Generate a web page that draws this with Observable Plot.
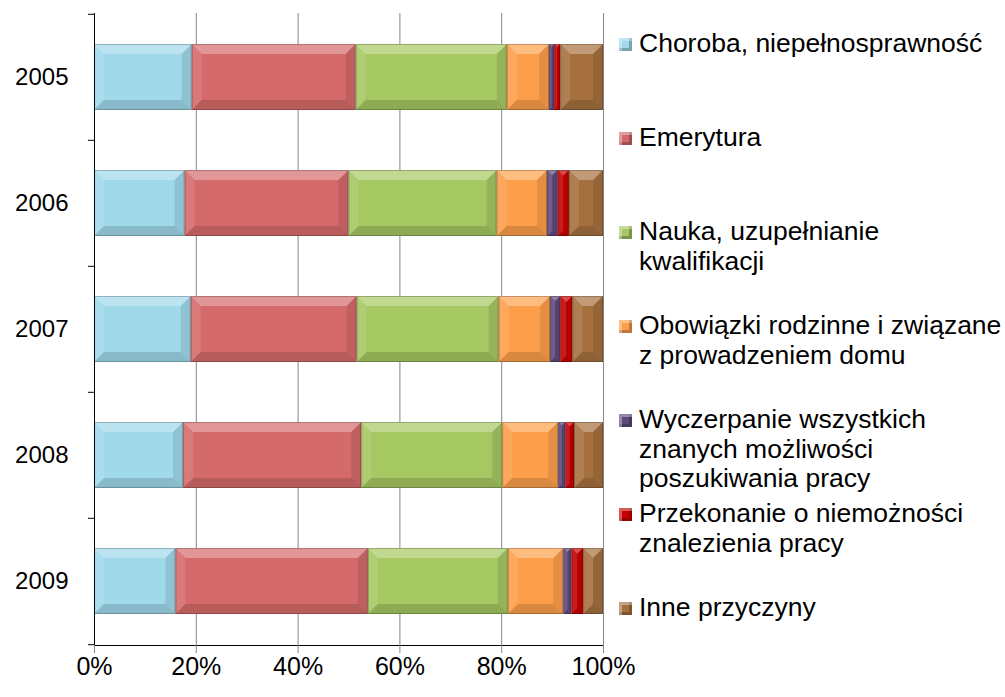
<!DOCTYPE html>
<html>
<head>
<meta charset="utf-8">
<script src="https://cdn.jsdelivr.net/npm/d3@7"></script>
<script src="https://cdn.jsdelivr.net/npm/@observablehq/plot@0.6"></script>
<style>
  body { margin: 0; background: #fff; }
  #wrap { position: relative; width: 1005px; height: 697px; font-family: "Liberation Sans", Arial, sans-serif; color: #000; }
  #legend { position: absolute; left: 619px; top: 29px; }
  .item { height: 94px; display: flex; align-items: flex-start; }
  .sw { width: 13px; height: 13px; margin-top: 9px; margin-right: 7px; flex: none; box-sizing: border-box;
        box-shadow: inset 3px 3px 0 rgba(255,255,255,0.35), inset -3px -3px 0 rgba(0,0,0,0.25); }
  .lab { font-size: 26.5px; line-height: 29.5px; white-space: pre; }
</style>
</head>
<body>
<div id="wrap"><div id="legend"></div></div>
<script>
const years = ["2005", "2006", "2007", "2008", "2009"];
const series = [
  "Choroba, niepełnosprawność",
  "Emerytura",
  "Nauka, uzupełnianie kwalifikacji",
  "Obowiązki rodzinne i związane z prowadzeniem domu",
  "Wyczerpanie wszystkich znanych możliwości poszukiwania pracy",
  "Przekonanie o niemożności znalezienia pracy",
  "Inne przyczyny"
];
const legendLabels = [
  "Choroba, niepełnosprawność",
  "Emerytura",
  "Nauka, uzupełnianie\nkwalifikacji",
  "Obowiązki rodzinne i związane\nz prowadzeniem domu",
  "Wyczerpanie wszystkich\nznanych możliwości\nposzukiwania pracy",
  "Przekonanie o niemożności\nznalezienia pracy",
  "Inne przyczyny"
];
const colors = ["#A0D9EA", "#D56A6A", "#A6C862", "#FD9F4A", "#604A7B", "#C80000", "#A6703E"];

// percent shares per series, one value per year (2005..2009)
const choroba     = [19.2, 17.8, 19.0, 17.5, 16.0];
const emerytura   = [32.2, 32.2, 32.6, 35.0, 37.8];
const nauka       = [29.7, 29.1, 27.9, 27.7, 27.5];
const obowiazki   = [ 8.3,  9.9, 10.1, 11.0, 10.9];
const wyczerpanie = [ 1.0,  2.1,  2.0,  1.4,  1.6];
const przekonanie = [ 1.2,  2.2,  2.4,  1.7,  2.3];
const inne        = [ 8.4,  6.7,  6.0,  5.7,  3.9];
const xTicks = [0, 0.2, 0.4, 0.6, 0.8, 1];

const values = [choroba, emerytura, nauka, obowiazki, wyczerpanie, przekonanie, inne];
const rows = years.flatMap((yr, i) => series.map((s, j) => ({year: yr, series: s, value: values[j][i]})));

const W = 1005, H = 697, mT = 13, mB = 52, mL = 94, mR = 402;
const step = (H - mT - mB) / years.length;

function bevel(index, scales, vals, dims, ctx, next) {
  const g = next(index, scales, vals, dims, ctx);
  const sel = d3.select(g);
  const rects = sel.selectAll("rect").nodes();
  for (const r of rects) {
    const x = +r.getAttribute("x"), y = +r.getAttribute("y");
    const w = +r.getAttribute("width"), h = +r.getAttribute("height");
    const b = Math.min(10, w / 2, h / 2);
    const P = (pts, fill, op) => sel.append("polygon")
      .attr("points", pts.map(p => p.join(",")).join(" "))
      .attr("fill", fill).attr("fill-opacity", op).attr("stroke", "none");
    P([[x, y], [x + w, y], [x + w - b, y + b], [x + b, y + b]], "#fff", 0.3);
    P([[x, y], [x + b, y + b], [x + b, y + h - b], [x, y + h]], "#fff", 0.1);
    P([[x, y + h], [x + b, y + h - b], [x + w - b, y + h - b], [x + w, y + h]], "#000", 0.14);
    P([[x + w, y], [x + w, y + h], [x + w - b, y + h - b], [x + w - b, y + b]], "#000", 0.1);
    sel.append("rect").attr("x", x + 0.5).attr("y", y + 0.5).attr("width", Math.max(0, w - 1)).attr("height", h - 1)
      .attr("fill", "none").attr("stroke", "#000").attr("stroke-opacity", 0.22);
  }
  return g;
}

const plot = Plot.plot({
  width: W, height: H,
  marginTop: mT, marginBottom: mB, marginLeft: mL, marginRight: mR,
  style: {fontFamily: "Liberation Sans, Arial, sans-serif", color: "#000", background: "#fff"},
  x: {domain: [0, 1]},
  y: {domain: years, paddingInner: 0.48, paddingOuter: 0.24},
  color: {domain: series, range: colors},
  marks: [
    Plot.gridX(xTicks, {stroke: "#868686", strokeOpacity: 1}),
    Plot.barX(rows, Plot.stackX({x: "value", y: "year", fill: "series", offset: "normalize", render: bevel})),
    Plot.ruleX([0], {stroke: "#000"}),
    Plot.frame({anchor: "bottom", stroke: "#000"}),
    Plot.ruleY(years, {y: d => d, dy: -step / 2, x1: -0.012, x2: 0, stroke: "#000"}),
    Plot.ruleY(years.slice(-1), {y: d => d, dy: step / 2, x1: -0.012, x2: 0, stroke: "#000"}),
    Plot.axisX(xTicks, {tickFormat: d3.format(".0%"), tickSize: 8, tickPadding: 4, fontSize: 25, stroke: "#868686", label: null}),
    Plot.axisY({tickSize: 0, tickPadding: 26, fontSize: 24, label: null})
  ]
});
document.getElementById("wrap").prepend(plot);

const legend = d3.select("#legend");
series.forEach((s, i) => {
  const it = legend.append("div").attr("class", "item");
  it.append("div").attr("class", "sw").style("background", colors[i]);
  it.append("div").attr("class", "lab").text(legendLabels[i]);
});
</script>
</body>
</html>
